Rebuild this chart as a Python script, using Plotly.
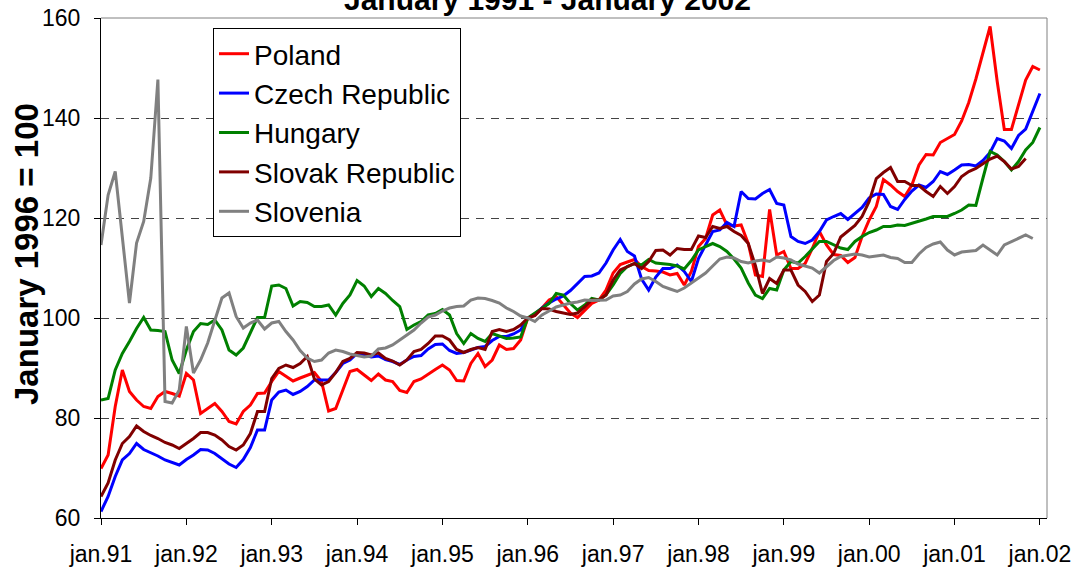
import plotly.graph_objects as go

# ---------------- data (monthly index, January 1996 = 100) ----------------
tick_labels = ["jan.91", "jan.92", "jan.93", "jan.94", "jan.95", "jan.96",
               "jan.97", "jan.98", "jan.99", "jan.00", "jan.01", "jan.02"]

poland = [69.9, 72.6, 82.3, 89.6, 85.3, 83.6, 82.3, 81.9, 84.3, 85.3, 84.9, 84.4,
          88.9, 87.6, 80.9, 81.9, 82.9, 81.3, 79.3, 78.8, 81.3, 82.6, 84.9, 85.0,
          87.3, 89.3, 88.3, 87.4, 88.0, 88.6, 89.1, 87.3, 81.4, 81.9, 85.6, 89.3,
          89.7, 88.6, 87.5, 88.8, 87.6, 87.3, 85.5, 85.1, 87.3, 87.8, 88.8, 89.7,
          90.6, 89.6, 87.5, 87.4, 90.9, 92.9, 90.3, 91.6, 94.6, 93.7, 93.9, 95.6,
          100.0, 100.5, 102.0, 103.6, 104.3, 102.6, 101.0, 100.1, 101.6, 102.9, 103.6, 105.6,
          109.0, 110.7, 111.2, 111.7, 110.3, 109.5, 109.4, 109.2, 108.6, 108.9, 106.6, 109.3,
          114.3, 115.9, 120.6, 121.6, 118.6, 118.4, 118.6, 114.9, 108.6, 108.3, 121.7, 112.6,
          113.3, 109.9, 109.9, 110.9, 113.9, 117.3, 114.6, 112.7, 112.5, 111.1, 112.1, 116.3,
          119.6, 122.3, 127.7, 126.6, 125.3, 124.3, 126.6, 130.6, 132.7, 132.6, 135.1, 135.9,
          136.7, 139.4, 143.1, 147.8, 153.1, 158.3, 147.3, 137.7, 137.7, 142.6, 147.6, 150.3,
          149.6]

czech = [61.3, 64.3, 68.3, 71.6, 72.9, 74.9, 73.7, 73.1, 72.4, 71.6, 71.1, 70.6,
         71.7, 72.6, 73.7, 73.6, 72.9, 71.9, 70.8, 70.1, 71.7, 74.1, 77.6, 77.6,
         83.6, 85.2, 85.6, 84.7, 85.3, 86.3, 87.6, 87.6, 87.6, 89.1, 90.9, 91.6,
         92.9, 92.6, 92.2, 92.4, 91.7, 91.3, 90.7, 91.6, 92.3, 92.5, 93.8, 94.7,
         94.8, 93.5, 92.9, 93.1, 93.6, 94.1, 94.3, 95.5, 96.3, 96.3, 96.8, 97.6,
         100.0, 100.8, 102.0, 103.0, 103.8, 104.4, 105.5, 106.8, 108.3, 108.4, 109.0, 111.0,
         113.6, 115.7, 113.3, 112.4, 107.8, 105.6, 108.2, 109.9, 109.9, 110.6, 109.3, 107.3,
         111.9, 114.6, 117.3, 117.6, 119.1, 118.3, 125.3, 123.9, 123.8, 124.9, 125.7, 122.9,
         122.6, 116.3, 115.3, 114.9, 115.6, 117.3, 119.6, 120.3, 120.9, 119.7, 120.9, 122.1,
         124.0, 124.8, 124.7, 122.3, 121.7, 123.7, 125.4, 126.6, 126.1, 127.3, 129.3, 128.7,
         129.6, 130.6, 130.7, 130.4, 131.5, 133.1, 135.9, 135.4, 133.9, 136.5, 137.8, 141.3,
         144.9]

hungary = [83.6, 83.9, 89.6, 92.9, 95.3, 97.9, 100.1, 97.6, 97.5, 97.3, 91.6, 88.9,
           93.6, 97.3, 98.9, 98.7, 99.6, 97.6, 93.6, 92.6, 94.0, 96.9, 100.1, 100.1,
           106.4, 106.6, 105.9, 102.4, 103.3, 103.1, 102.3, 102.3, 102.6, 100.6, 102.9, 104.6,
           107.5, 106.4, 104.3, 105.9, 104.9, 103.5, 102.3, 97.7, 98.6, 99.3, 100.6, 100.9,
           101.7, 100.6, 96.9, 94.9, 96.9, 95.9, 95.3, 96.9, 96.4, 95.9, 96.0, 96.2,
           100.0, 101.0, 101.9, 102.9, 104.9, 104.6, 102.9, 101.6, 102.6, 103.9, 103.6, 104.6,
           106.6, 108.9, 110.3, 110.9, 110.6, 111.7, 111.0, 110.9, 110.7, 110.4, 109.8, 111.5,
           113.6, 114.3, 114.9, 114.3, 113.3, 111.8, 110.0, 107.0, 104.6, 103.9, 105.9, 105.6,
           109.6, 111.3, 111.0, 112.3, 113.9, 115.3, 115.3, 114.6, 114.0, 113.7, 115.3, 116.3,
           117.1, 117.6, 118.3, 118.3, 118.6, 118.5, 118.9, 119.3, 119.8, 120.3, 120.3, 120.3,
           120.9, 121.6, 122.6, 122.5, 128.0, 133.3, 132.6, 131.3, 129.6, 131.3, 133.6, 135.1,
           138.1]

slovakia = [64.3, 67.0, 71.6, 74.9, 76.3, 78.4, 77.3, 76.5, 75.9, 75.1, 74.6, 73.9,
            74.9, 75.9, 77.1, 77.1, 76.6, 75.6, 74.3, 73.6, 74.6, 76.9, 81.3, 81.3,
            87.9, 89.9, 90.6, 90.1, 90.9, 92.3, 87.8, 86.6, 87.3, 89.1, 91.3, 91.9,
            93.1, 93.0, 92.6, 93.0, 91.9, 91.4, 90.6, 91.6, 93.3, 93.7, 94.9, 96.4,
            96.4, 95.6, 93.7, 93.1, 93.7, 94.1, 93.7, 97.3, 97.7, 97.3, 97.7, 98.6,
            100.0, 100.5, 101.9, 101.8, 101.3, 101.0, 100.7, 101.0, 102.2, 103.6, 103.6, 104.6,
            107.6, 109.6, 110.3, 110.9, 109.9, 111.3, 113.5, 113.6, 112.6, 113.9, 113.7, 113.7,
            116.4, 116.1, 118.3, 117.9, 118.3, 117.3, 116.5, 114.9, 110.5, 104.9, 107.9, 106.9,
            109.6, 109.6, 106.6, 105.3, 103.3, 104.6, 111.3, 112.9, 116.2, 117.3, 118.5, 120.3,
            123.3, 127.9, 129.1, 130.1, 127.3, 127.3, 126.5, 126.5, 125.3, 124.3, 126.3, 124.9,
            126.3, 128.3, 129.3, 129.9, 130.9, 131.8, 132.4, 131.3, 129.8, 130.3, 131.9]

slovenia = [114.6, 124.6, 129.3, 116.0, 103.0, 115.0, 119.3, 128.0, 147.7, 83.3, 83.0, 85.6,
            98.3, 89.0, 91.6, 95.0, 99.6, 104.0, 105.0, 100.3, 98.0, 99.0, 99.6, 97.8,
            99.0, 99.3, 97.3, 95.6, 93.5, 92.0, 91.3, 91.6, 93.0, 93.6, 93.3, 92.8,
            92.5, 92.2, 92.4, 93.8, 94.0, 94.6, 95.6, 96.6, 97.6, 99.0, 100.2, 100.6,
            101.4, 102.0, 102.3, 102.4, 103.6, 104.0, 103.9, 103.5, 103.0, 102.0, 101.3, 100.4,
            100.0, 99.3, 100.6, 101.4, 102.2, 102.6, 103.0, 103.2, 103.6, 103.5, 103.5, 103.6,
            104.4, 104.6, 105.3, 106.8, 107.8, 108.1, 107.3, 106.3, 105.8, 105.3, 106.0, 107.0,
            108.0, 109.0, 110.4, 111.8, 112.2, 112.0, 111.3, 111.0, 111.4, 111.6, 111.3, 112.2,
            112.0, 111.6, 110.8, 110.4, 110.0, 109.0, 110.3, 111.5, 112.3, 112.6, 112.8, 112.6,
            112.2, 112.4, 112.6, 112.1, 111.9, 111.1, 111.1, 112.8, 114.1, 114.8, 115.2, 113.6,
            112.6, 113.2, 113.3, 113.5, 114.6, 113.6, 112.6, 114.6, 115.3, 115.9, 116.6, 115.9]

series_names = ["Poland", "Czech Republic", "Hungary", "Slovak Republic", "Slovenia"]
series_values = [poland, czech, hungary, slovakia, slovenia]
series_colors = ["#FF0000", "#0000FF", "#008000", "#800000", "#808080"]

FONT = "Liberation Sans, Arial, sans-serif"

fig = go.Figure()
for name, vals, col in zip(series_names, series_values, series_colors):
    fig.add_trace(go.Scatter(
        x=list(range(len(vals))), y=vals, mode="lines", name=name,
        line=dict(color=col, width=3)))

fig.update_layout(
    width=1078, height=572,
    margin=dict(l=101, r=31, t=18, b=54),
    paper_bgcolor="white", plot_bgcolor="white",
    font=dict(family=FONT, color="black"),
    showlegend=True,
    legend=dict(x=0.1184, y=0.98, xanchor="left", yanchor="top",
                bgcolor="white", bordercolor="black", borderwidth=1,
                font=dict(size=28, family=FONT, color="black"),
                entrywidth=228, entrywidthmode="pixels",
                tracegroupgap=0),
    xaxis=dict(range=[0, 133], tickmode="array",
               tickvals=[12 * i for i in range(len(tick_labels))],
               ticktext=tick_labels, ticks="outside", ticklen=6,
               tickcolor="black", showline=True, linecolor="black", linewidth=1,
               showgrid=False, zeroline=False, automargin=False,
               tickfont=dict(size=23, family=FONT, color="black"),
               ticklabelstandoff=9),
    yaxis=dict(range=[60, 160], tick0=60, dtick=20, ticks="outside", ticklen=6,
               tickcolor="black", showline=True, linecolor="black", linewidth=1,
               showgrid=True, gridcolor="#444444", griddash="8px,7px", gridwidth=1,
               zeroline=False, automargin=False,
               tickfont=dict(size=23, family=FONT, color="black"),
               ticklabelstandoff=9),
    shapes=[
        dict(type="line", xref="paper", yref="paper", x0=0, x1=1, y0=1, y1=1,
             line=dict(color="#808080", width=1), layer="above"),
        dict(type="line", xref="paper", yref="paper", x0=1, x1=1, y0=0, y1=1,
             line=dict(color="#808080", width=1), layer="above"),
    ],
    annotations=[
        dict(text="<b>January 1991 - January 2002</b>", xref="paper", yref="paper",
             x=0.4725, y=1.037, xanchor="center", yanchor="middle", showarrow=False,
             font=dict(size=30, family=FONT, color="black")),
        dict(text="<b>January 1996 = 100</b>", xref="paper", yref="paper",
             x=-0.0793, y=0.528, xanchor="center", yanchor="middle", showarrow=False,
             textangle=-90, font=dict(size=33, family=FONT, color="black")),
    ],
)

fig.write_html("out.html",
               config={"displayModeBar": False},
               post_script="document.body.style.margin='0px';document.body.style.overflow='hidden';")
